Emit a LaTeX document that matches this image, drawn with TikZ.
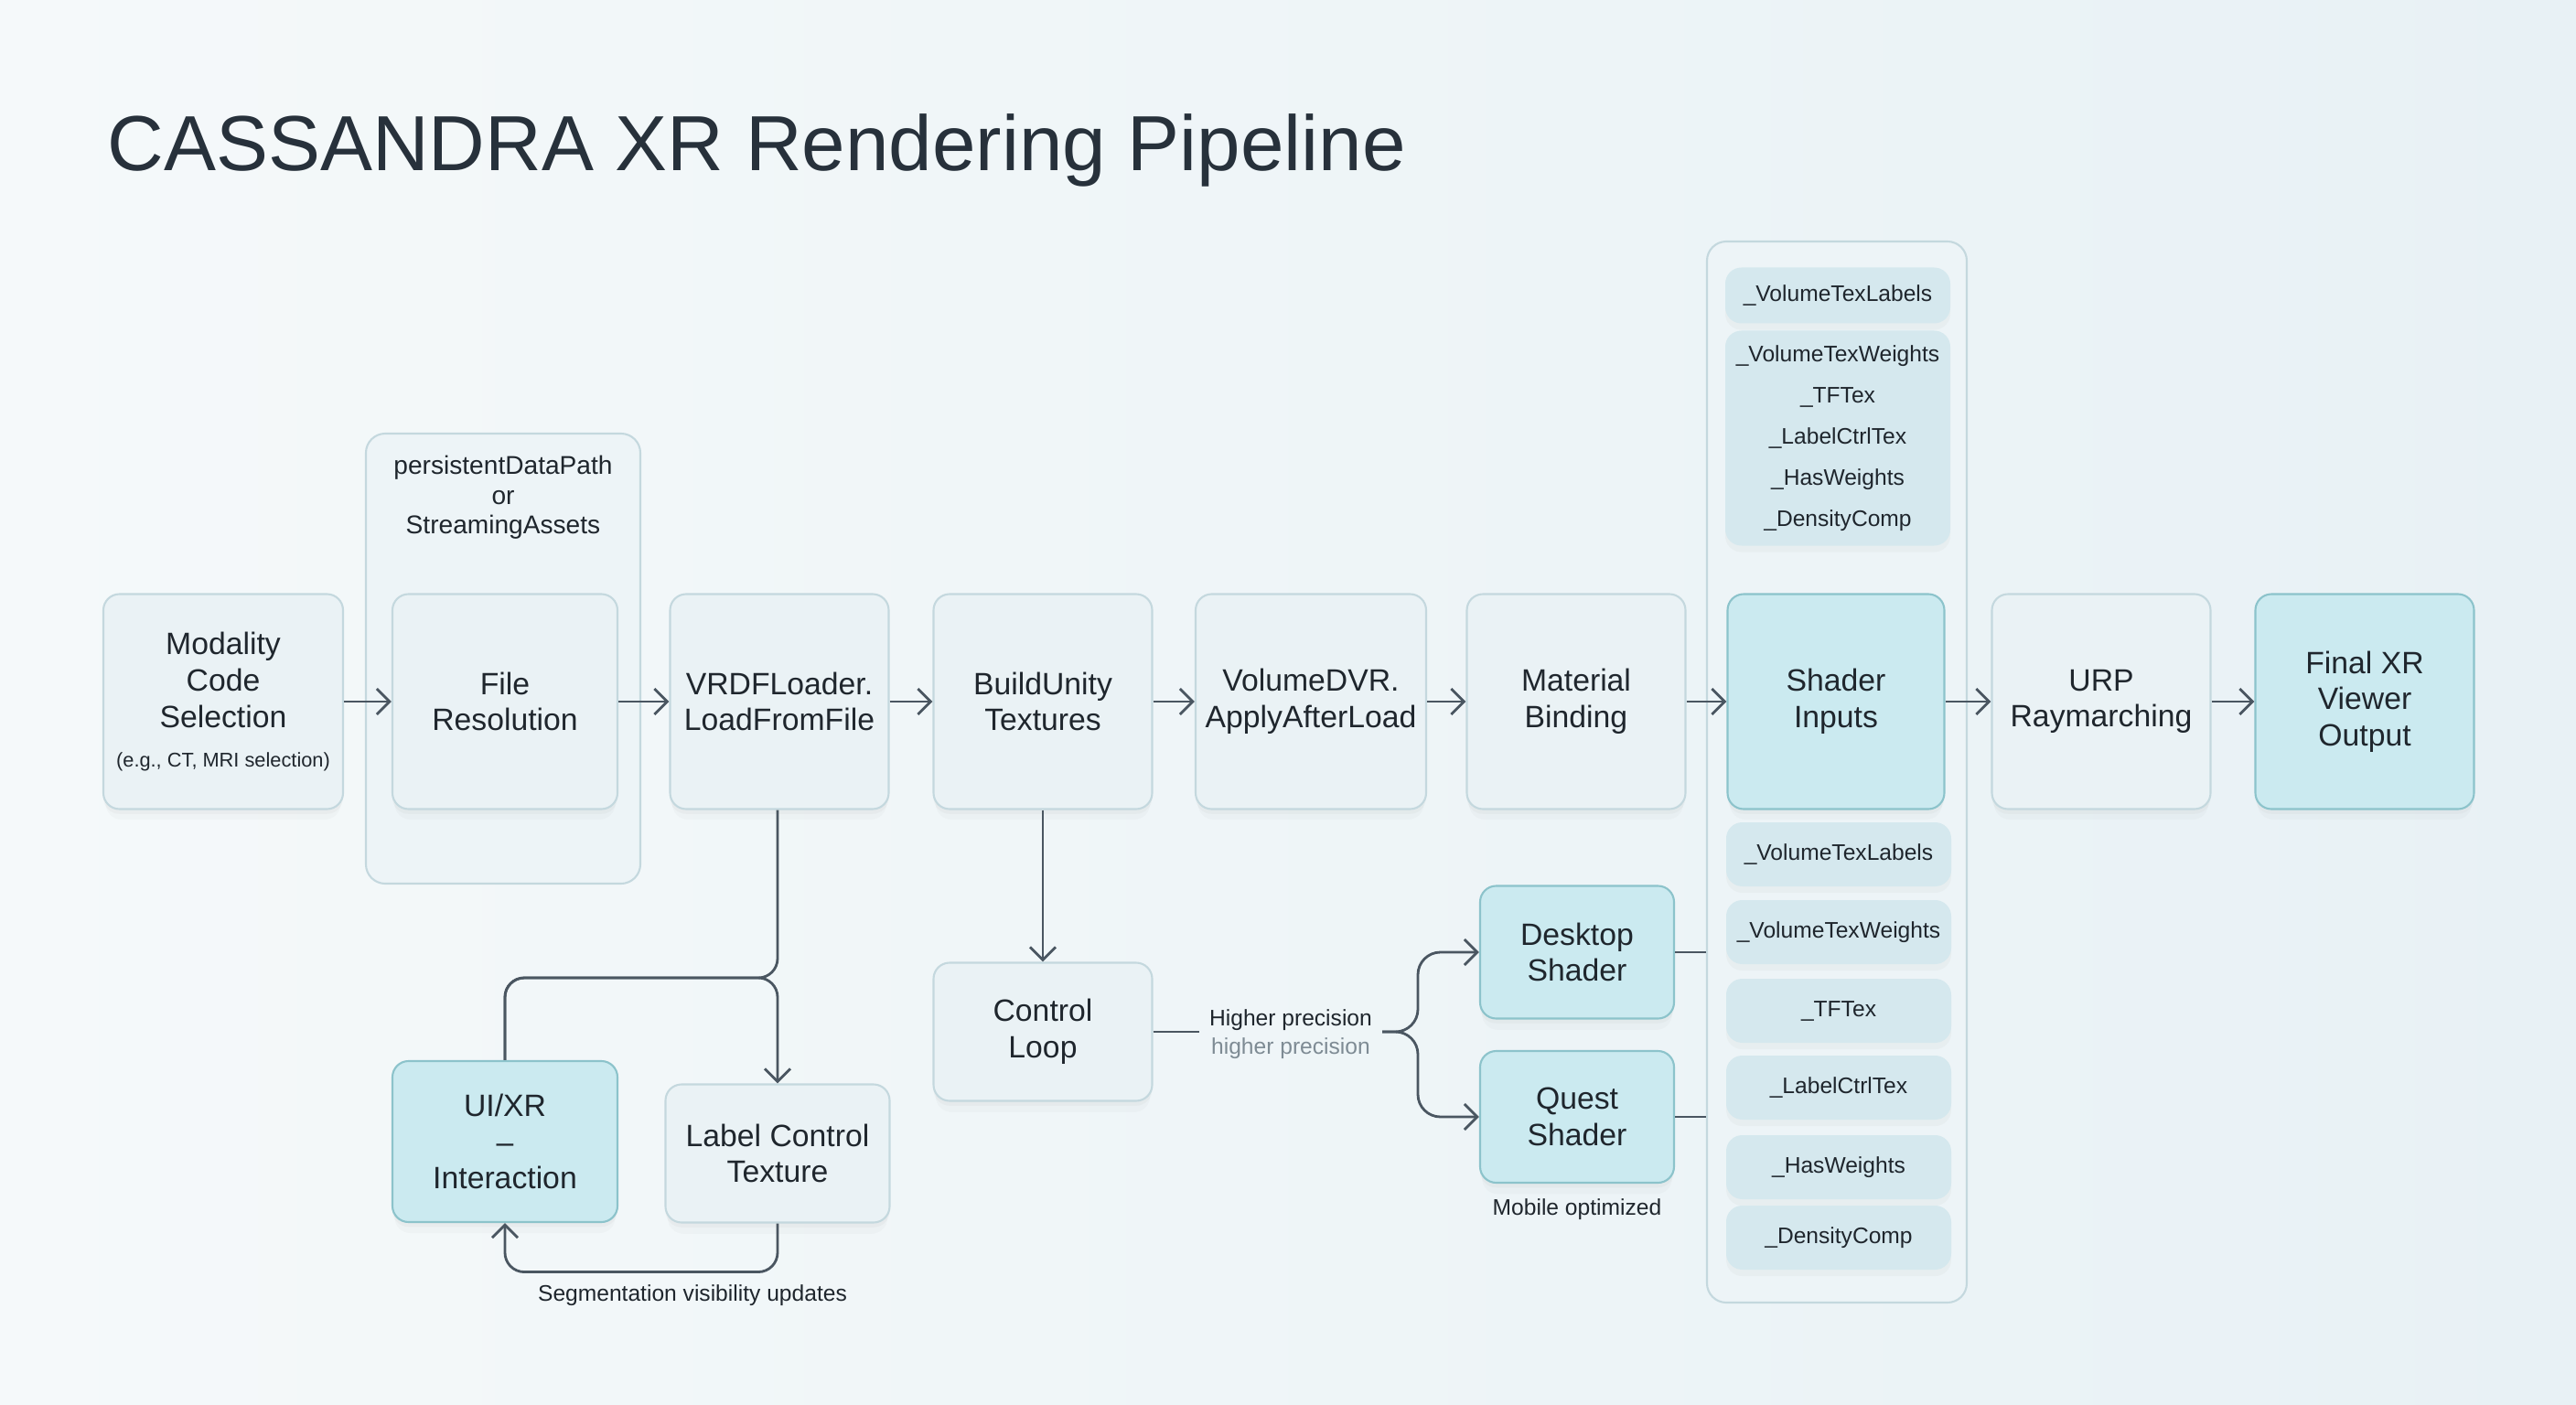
\documentclass[tikz,border=0pt]{standalone}
\usepackage{fontspec}
\setmainfont{Liberation Sans}
\usetikzlibrary{arrows.meta,shadows}

\definecolor{ink}{HTML}{1F262D}
\definecolor{titleink}{HTML}{27313B}
\definecolor{muted}{HTML}{7E8B94}
\definecolor{wire}{HTML}{4A5661}
\definecolor{boxfill}{HTML}{EAF2F5}
\definecolor{boxline}{HTML}{C4D8DE}
\definecolor{hifill}{HTML}{CBEAF0}
\definecolor{hiline}{HTML}{8CC3CB}
\definecolor{panelfill}{HTML}{EDF4F7}
\definecolor{chipfill}{HTML}{D5E8EE}
\definecolor{bgA}{HTML}{F5F9FA}
\definecolor{bgB}{HTML}{E8F1F5}

\begin{document}
\begin{tikzpicture}[
  font=\fontsize{9.6}{11.3}\selectfont,
  stage/.style={draw=boxline, line width=0.6pt, fill=boxfill, rounded corners=5pt,
    align=center, text=ink, minimum width=2.39cm, minimum height=2.35cm, inner sep=1pt,
    drop shadow={shadow xshift=0pt, shadow yshift=-1.5pt, opacity=0.05},
    drop shadow={shadow xshift=0pt, shadow yshift=-4pt, shadow scale=0.98, opacity=0.04}},
  stagehi/.style={stage, draw=hiline, fill=hifill},
  panel/.style={draw=boxline, line width=0.6pt, fill=panelfill, rounded corners=6pt, inner sep=0pt},
  chip/.style={fill=chipfill, rounded corners=5pt, minimum width=2.46cm, align=center,
    text=ink, font=\fontsize{7}{12.8}\selectfont, inner sep=1pt,
    drop shadow={shadow xshift=0pt, shadow yshift=-2pt, opacity=0.05}},
  caption/.style={font=\fontsize{7}{8.8}\selectfont, text=ink, align=center, inner sep=3pt},
  flow/.style={draw=wire, line width=0.8pt, -{Straight Barb[length=4pt,width=8pt]}},
  wireline/.style={draw=wire, line width=0.8pt},
]
\useasboundingbox (0,0) rectangle (28.16,-15.36);
\shade[left color=bgA, right color=bgB] (0,0) rectangle (28.16,-15.36);

\node[anchor=base west, inner sep=0pt, text=titleink, font=\fontsize{24.3}{28}\selectfont] (title) at (1.17,-1.87) {CASSANDRA XR Rendering Pipeline};

\node[panel, minimum width=3.00cm, minimum height=4.92cm] (pathgrp) at (5.50,-7.20) {};
\node[panel, minimum width=2.84cm, minimum height=11.60cm] (shgrp) at (20.08,-8.44) {};

\node[caption, font=\fontsize{8}{9.2}\selectfont] (pathnote) at (5.50,-5.44) {persistentDataPath\\or\\StreamingAssets};

\node[stage, minimum width=2.62cm] (modality) at (2.44,-7.67) {Modality\\Code\\Selection\\[1pt]{\fontsize{6.2}{7}\selectfont (e.g., CT, MRI selection)}};
\node[stage, minimum width=2.46cm] (file) at (5.52,-7.67) {File\\Resolution};
\node[stage] (vrdf) at (8.52,-7.67) {VRDFLoader.\\LoadFromFile};
\node[stage] (build) at (11.40,-7.67) {BuildUnity\\Textures};
\node[stage, minimum width=2.52cm] (vdvr) at (14.33,-7.67) {VolumeDVR.\\ApplyAfterLoad};
\node[stage] (material) at (17.23,-7.67) {Material\\Binding};
\node[stagehi, minimum width=2.37cm] (shinputs) at (20.07,-7.67) {Shader\\Inputs};
\node[stage] (urp) at (22.97,-7.67) {URP\\Raymarching};
\node[stagehi] (final) at (25.85,-7.67) {Final XR\\Viewer\\Output};

\node[chip, minimum height=0.61cm] (toplabels) at (20.09,-3.23) {\_VolumeTexLabels};
\node[chip, minimum height=2.35cm] (toplist) at (20.09,-4.79) {\_VolumeTexWeights\\\_TFTex\\\_LabelCtrlTex\\\_HasWeights\\\_DensityComp};
\foreach \y/\t [count=\i] in {-9.34/\_VolumeTexLabels, -10.19/\_VolumeTexWeights, -11.05/\_TFTex, -11.89/\_LabelCtrlTex, -12.76/\_HasWeights, -13.53/\_DensityComp}
  \node[chip, minimum height=0.70cm] (lowchip\i) at (20.10,\y) {\t};

\node[stage, minimum height=1.51cm] (ctrl) at (11.40,-11.28) {Control\\Loop};
\node[stagehi, minimum width=2.46cm, minimum height=1.76cm] (ui) at (5.52,-12.48) {UI/XR\\–\\Interaction};
\node[stage, minimum width=2.45cm, minimum height=1.51cm] (lct) at (8.50,-12.61) {Label Control\\Texture};
\node[stagehi, minimum width=2.12cm, minimum height=1.45cm] (desk) at (17.24,-10.41) {Desktop\\Shader};
\node[stagehi, minimum width=2.12cm, minimum height=1.44cm] (quest) at (17.24,-12.21) {Quest\\Shader};

\node[caption] (hp) at (14.11,-11.31) {Higher precision\\\textcolor{muted}{higher precision}};
\node[caption] (mobile) at (17.24,-13.22) {Mobile optimized};
\node[caption] (segnote) at (7.57,-14.16) {Segmentation visibility updates};

\coordinate (merge) at (8.50,-10.69);
\coordinate (fork) at (15.50,-11.28);

\draw[flow] (modality.east) -- (file.west);
\draw[flow] (file.east) -- (vrdf.west);
\draw[flow] (vrdf.east) -- (build.west);
\draw[flow] (build.east) -- (vdvr.west);
\draw[flow] (vdvr.east) -- (material.west);
\draw[flow] (material.east) -- (shinputs.west);
\draw[flow] (shinputs.east) -- (urp.west);
\draw[flow] (urp.east) -- (final.west);

\draw[flow] (build.south) -- (ctrl.north);
\draw[wireline] (ctrl.east) -- (ctrl.east -| hp.west);
\draw[flow, rounded corners=7pt] (ctrl.east -| hp.east) -- (fork) |- (desk.west);
\draw[flow, rounded corners=7pt] (ctrl.east -| hp.east) -- (fork) |- (quest.west);
\draw[wireline] (desk.east) -- (desk.east -| shgrp.west);
\draw[wireline] (quest.east) -- (quest.east -| shgrp.west);

\draw[wireline, rounded corners=6pt] (vrdf.south -| lct.north) |- (merge -| ui.north) -- (ui.north);
\draw[flow, rounded corners=6pt] (ui.north) |- (merge) -- (lct.north);
\draw[flow, rounded corners=6pt] (lct.south) -- ++(0,-0.53) -| (ui.south);
\end{tikzpicture}
\end{document}
